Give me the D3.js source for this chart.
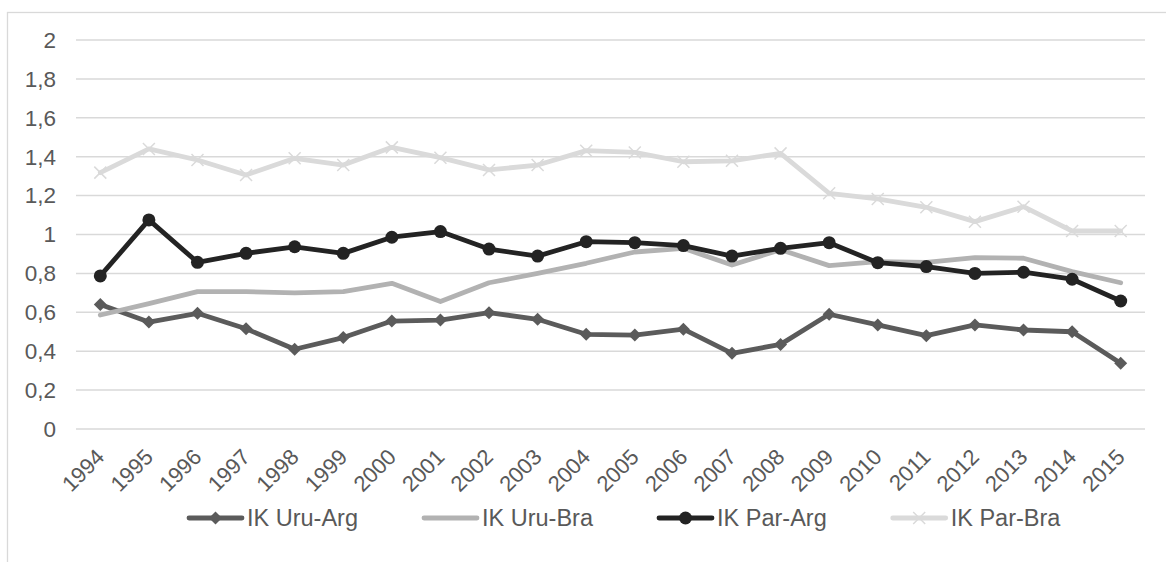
<!DOCTYPE html>
<html>
<head>
<meta charset="utf-8">
<script src="https://cdn.jsdelivr.net/npm/d3@7"></script>
<style>
  body { margin: 0; background: #fff; }
  text { font-family: "Liberation Sans", Arial, sans-serif; fill: #595959; }
</style>
</head>
<body>
<div id="chart"></div>
<script>
// years on the x axis
const years = ["1994","1995","1996","1997","1998","1999","2000","2001","2002","2003","2004",
  "2005","2006","2007","2008","2009","2010","2011","2012","2013","2014","2015"];

// series
const uruArg = [0.64,0.55,0.595,0.515,0.41,0.47,0.555,0.56,0.598,0.564,0.487,0.483,0.513,0.389,0.435,0.59,0.535,0.48,0.535,0.509,0.5,0.338];
const uruBra = [0.586,0.645,0.706,0.706,0.70,0.706,0.749,0.655,0.752,0.80,0.852,0.91,0.929,0.843,0.922,0.84,0.86,0.857,0.881,0.878,0.809,0.752];
const parArg = [0.787,1.075,0.857,0.903,0.937,0.903,0.986,1.015,0.925,0.889,0.963,0.958,0.943,0.889,0.929,0.958,0.855,0.835,0.80,0.806,0.77,0.658];
const parBra = [1.318,1.44,1.383,1.306,1.392,1.357,1.448,1.395,1.332,1.357,1.431,1.422,1.374,1.379,1.417,1.212,1.183,1.14,1.066,1.143,1.018,1.018];

const yTicks = [0,0.2,0.4,0.6,0.8,1,1.2,1.4,1.6,1.8,2];

const series = [
  {name: "IK Uru-Arg", values: uruArg, color: "#5b5b5b", marker: "diamond"},
  {name: "IK Uru-Bra", values: uruBra, color: "#b2b2b2", marker: "none"},
  {name: "IK Par-Arg", values: parArg, color: "#232323", marker: "circle"},
  {name: "IK Par-Bra", values: parBra, color: "#dadada", marker: "x"}
];

const width = 1166, height = 562;
const svg = d3.select("#chart").append("svg")
  .attr("width", width).attr("height", height);

// chart border
svg.append("rect")
  .attr("x", 7.5).attr("y", 12.5)
  .attr("width", 1200).attr("height", 600)
  .attr("fill", "none").attr("stroke", "#d9d9d9").attr("stroke-width", 1.3);

const x = d3.scalePoint().domain(years).range([76, 1145]).padding(0.5);
const y = d3.scaleLinear().domain([0, 2]).range([429, 40]);

// gridlines
svg.append("g").selectAll("line")
  .data(yTicks).enter().append("line")
  .attr("x1", 76).attr("x2", 1145)
  .attr("y1", d => y(d)).attr("y2", d => y(d))
  .attr("stroke", "#d9d9d9").attr("stroke-width", 1.5);

// y labels
const fmt = d => String(+d.toFixed(1)).replace(".", ",");
svg.append("g").selectAll("text")
  .data(yTicks).enter().append("text")
  .attr("x", 56).attr("y", d => y(d))
  .attr("dy", "0.35em")
  .attr("text-anchor", "end")
  .style("font-size", "22.5px")
  .text(fmt);

// x labels
svg.append("g").selectAll("text")
  .data(years).enter().append("text")
  .attr("transform", d => `translate(${x(d)},${453}) rotate(-45)`)
  .attr("dy", "0.35em")
  .attr("text-anchor", "end")
  .style("font-size", "22px")
  .text(d => d);

const line = d3.line().x((d, i) => x(years[i])).y(d => y(d));

function drawMarker(g, type, color) {
  if (type === "diamond") {
    g.append("path").attr("d", "M0,-6.5L6.5,0L0,6.5L-6.5,0Z").attr("fill", color);
  } else if (type === "circle") {
    g.append("circle").attr("r", 6.5).attr("fill", color);
  } else if (type === "x") {
    g.append("path").attr("d", "M-6,-6L6,6M-6,6L6,-6")
      .attr("stroke", color).attr("stroke-width", 1.5).attr("fill", "none");
  }
}

series.forEach(s => {
  svg.append("path")
    .datum(s.values)
    .attr("d", line)
    .attr("fill", "none")
    .attr("stroke", s.color)
    .attr("stroke-width", 4.8)
    .attr("stroke-linejoin", "round")
    .attr("stroke-linecap", "round");
  svg.append("g").selectAll("g")
    .data(s.values).enter().append("g")
    .attr("transform", (d, i) => `translate(${x(years[i])},${y(d)})`)
    .each(function () { drawMarker(d3.select(this), s.marker, s.color); });
});

// legend
const legend = svg.append("g");
let lx = 189;
const ly = 518;
series.forEach(s => {
  const item = legend.append("g").attr("transform", `translate(${lx},${ly})`);
  item.append("line").attr("x1", 0).attr("x2", 53)
    .attr("stroke", s.color).attr("stroke-width", 4.8).attr("stroke-linecap", "round");
  drawMarker(item.append("g").attr("transform", "translate(26.5,0)"), s.marker, s.color);
  const t = item.append("text")
    .attr("x", 58).attr("dy", "0.35em")
    .style("font-size", "23.5px")
    .text(s.name);
  lx += 58 + t.node().getComputedTextLength() + 66;
});
</script>
</body>
</html>
